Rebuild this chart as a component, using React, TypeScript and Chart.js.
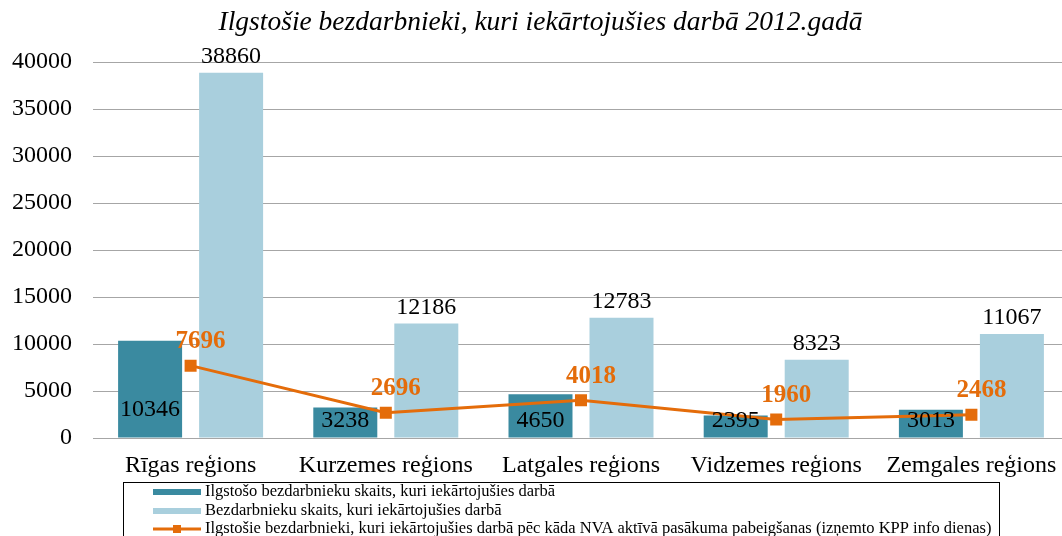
import React, { useEffect, useRef } from "react";
import { Chart, registerables } from "chart.js";

Chart.register(...registerables);

const titleText = "Ilgstošie bezdarbnieki, kuri iekārtojušies darbā 2012.gadā";
const categories = ["Rīgas reģions", "Kurzemes reģions", "Latgales reģions", "Vidzemes reģions", "Zemgales reģions"];
const longTermEmployed = [10346, 3238, 4650, 2395, 3013];
const allEmployed = [38860, 12186, 12783, 8323, 11067];
const afterMeasures = [7696, 2696, 4018, 1960, 2468];
const seriesNames = [
  "Ilgstošo bezdarbnieku skaits, kuri iekārtojušies darbā",
  "Bezdarbnieku skaits, kuri iekārtojušies darbā",
  "Ilgstošie bezdarbnieki, kuri iekārtojušies darbā pēc kāda NVA aktīvā pasākuma pabeigšanas (izņemto KPP info dienas)",
];
const yMin = 0;
const yMax = 40000;
const yStep = 5000;

const DARK = "#3a8aa0";
const LIGHT = "#a9cfdd";
const ORANGE = "#e46c0a";
const SERIF = "'Liberation Serif', 'Times New Roman', serif";

const labelsPlugin = {
  id: "valueLabels",
  afterDatasetsDraw(chart: any) {
    const ctx = chart.ctx;
    ctx.save();
    ctx.textAlign = "center";
    ctx.textBaseline = "middle";
    chart.data.datasets.forEach((ds: any, di: number) => {
      const meta = chart.getDatasetMeta(di);
      meta.data.forEach((el: any, i: number) => {
        const v = ds.data[i];
        if (di === 0) {
          ctx.font = `bold 25px ${SERIF}`;
          ctx.fillStyle = ORANGE;
          ctx.fillText(String(v), el.x + 10, el.y - 24);
        } else if (di === 1) {
          ctx.font = `24px ${SERIF}`;
          ctx.fillStyle = "#000";
          const h = el.base - el.y;
          ctx.fillText(String(v), el.x, el.base - Math.max(17, h * 0.29));
        } else {
          ctx.font = `24px ${SERIF}`;
          ctx.fillStyle = "#000";
          ctx.fillText(String(v), el.x, el.y - 16);
        }
      });
    });
    ctx.restore();
  },
};

const legendPlugin = {
  id: "boxLegend",
  afterDraw(chart: any) {
    const ctx = chart.ctx;
    ctx.save();
    const bx = 123.5, by = 482.5, bw = 876, bh = 70;
    ctx.strokeStyle = "#000";
    ctx.lineWidth = 1;
    ctx.strokeRect(bx, by, bw, bh);
    const rows = [492, 511, 529];
    ctx.font = `16.5px ${SERIF}`;
    ctx.textBaseline = "middle";
    ctx.textAlign = "left";
    rows.forEach((ry, i) => {
      if (i < 2) {
        ctx.fillStyle = i === 0 ? DARK : LIGHT;
        ctx.fillRect(153, ry - 3, 48, 6);
      } else {
        ctx.strokeStyle = ORANGE;
        ctx.lineWidth = 3;
        ctx.beginPath();
        ctx.moveTo(153, ry);
        ctx.lineTo(201, ry);
        ctx.stroke();
        ctx.fillStyle = ORANGE;
        ctx.fillRect(173, ry - 4, 8, 8);
      }
      ctx.fillStyle = "#000";
      ctx.fillText(seriesNames[i], 205, ry);
    });
    ctx.restore();
  },
};

export default function App() {
  const ref = useRef<HTMLCanvasElement | null>(null);
  useEffect(() => {
    if (!ref.current) return;
    const chart = new Chart(ref.current, {
      type: "bar",
      data: {
        labels: categories,
        datasets: [
          {
            type: "line",
            label: seriesNames[2],
            data: afterMeasures,
            borderColor: ORANGE,
            backgroundColor: ORANGE,
            borderWidth: 3,
            pointStyle: "rect",
            pointRadius: 8.5,
            pointBorderWidth: 0,
            order: 0,
          } as any,
          {
            label: seriesNames[0],
            data: longTermEmployed,
            backgroundColor: DARK,
            order: 1,
            categoryPercentage: 0.83,
            barPercentage: 0.79,
          },
          {
            label: seriesNames[1],
            data: allEmployed,
            backgroundColor: LIGHT,
            order: 1,
            categoryPercentage: 0.83,
            barPercentage: 0.79,
          },
        ],
      },
      options: {
        animation: false,
        responsive: false,
        layout: { autoPadding: false, padding: { left: 12, right: 3, top: 0, bottom: 53 } },
        plugins: {
          legend: { display: false },
          tooltip: { enabled: false },
          title: {
            display: true,
            text: titleText,
            color: "#000",
            font: { family: SERIF, size: 27.5, style: "italic", weight: "normal" },
            padding: { top: 6, bottom: 23 },
          },
        },
        scales: {
          x: {
            grid: { display: false },
            border: { display: false },
            afterFit: (s: any) => { s.height = 45; },
            ticks: {
              color: "#000",
              font: { family: SERIF, size: 24 },
              padding: 5,
              maxRotation: 0,
              autoSkip: false,
            },
          },
          y: {
            min: yMin,
            max: yMax,
            grid: { color: "#a6a6a6", drawTicks: false },
            border: { display: false },
            afterFit: (s: any) => { s.width = 81; },
            ticks: {
              stepSize: yStep,
              color: "#000",
              font: { family: SERIF, size: 24 },
              padding: 21,
              callback: (v: any) => String(v),
            },
          },
        },
      },
      plugins: [labelsPlugin, legendPlugin],
    });
    return () => chart.destroy();
  }, []);
  return (
    <div style={{ position: "fixed", left: 0, top: 0, width: 1062, height: 536, overflow: "hidden", background: "#fff" }}>
      <canvas ref={ref} width={1072} height={536} />
    </div>
  );
}
